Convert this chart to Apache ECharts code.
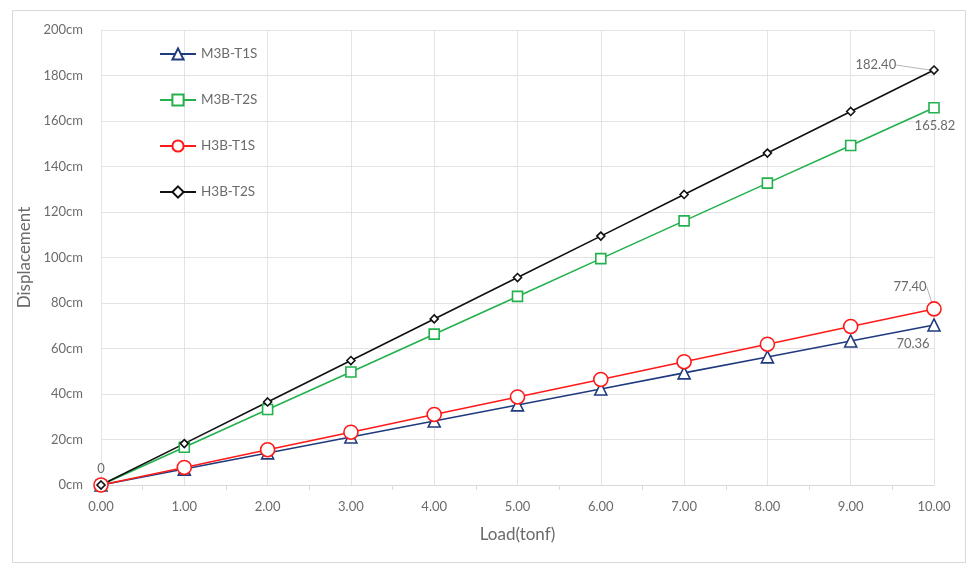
<!DOCTYPE html>
<html><head><meta charset="utf-8">
<script src="https://cdn.jsdelivr.net/npm/echarts@6/dist/echarts.min.js"></script>
<style>html,body{margin:0;padding:0;background:#fff}#c{width:974px;height:576px}</style>
</head><body><div id="c"></div>
<script>
const loads = [0, 1, 2, 3, 4, 5, 6, 7, 8, 9, 10];
const seriesNames = ['M3B-T1S', 'M3B-T2S', 'H3B-T1S', 'H3B-T2S'];
const m3bT1S = [0, 7.0, 14.1, 21.1, 28.1, 35.2, 42.2, 49.3, 56.3, 63.3, 70.36];
const m3bT2S = [0, 16.6, 33.2, 49.7, 66.3, 82.9, 99.5, 116.1, 132.7, 149.2, 165.82];
const h3bT1S = [0, 7.7, 15.5, 23.2, 31.0, 38.7, 46.4, 54.2, 61.9, 69.7, 77.40];
const h3bT2S = [0, 18.2, 36.5, 54.7, 73.0, 91.2, 109.4, 127.7, 145.9, 164.2, 182.40];

const FONT = 'Lato';
const GRAY = '#6b6b6b';
const chart = echarts.init(document.getElementById('c'));
const last = loads.length - 1;

function pts(vals, labelCfg) {
  return vals.map((v, i) => {
    const item = { value: [loads[i], v] };
    if (labelCfg[i]) {
      item.label = Object.assign({ show: true, color: GRAY, fontSize: 13, fontFamily: FONT,
        formatter: (p) => i === 0 ? '0' : p.value[1].toFixed(2) }, labelCfg[i].label);
      if (labelCfg[i].labelLine) item.labelLine = labelCfg[i].labelLine;
    }
    return item;
  });
}

const cfg = {
  m3bT1S: { [last]: { label: { position: 'bottom', offset: [-21, 1] } } },
  m3bT2S: { [last]: { label: { position: 'bottom', offset: [1, 1] } } },
  h3bT1S: { [last]: { label: { position: 'top' }, labelLine: { show: true } } },
  h3bT2S: { 0: { label: { position: 'top', offset: [0, -2] } },
            [last]: { label: { position: 'left' }, labelLine: { show: true } } }
};

function mk(name, vals, color, symbol, size, c, layout) {
  const s = {
    name, type: 'line', data: pts(vals, c || {}),
    symbol, symbolSize: size, showAllSymbol: true,
    lineStyle: { color, width: 1.6 },
    itemStyle: { color: '#fff', borderColor: color, borderWidth: 1.6 },
    emphasis: { disabled: true },
    labelLine: { show: false, lineStyle: { color: '#b5b5b5', width: 1 } },
    color
  };
  if (layout) s.labelLayout = layout;
  return s;
}

const option = {
  animation: false,
  graphic: [{ type: 'rect', shape: { x: 12.5, y: 10.5, width: 953, height: 552 },
    style: { fill: 'none', stroke: '#d9d9d9', lineWidth: 1 }, silent: true }],
  grid: { left: 101, right: 40, top: 30, bottom: 91 },
  legend: {
    orient: 'vertical', left: 154, top: 42, itemGap: 32, itemWidth: 36, itemHeight: 14,
    textStyle: { color: GRAY, fontSize: 13.5, fontFamily: FONT },
    data: seriesNames
  },
  xAxis: {
    type: 'value', min: 0, max: 10, interval: 1,
    name: 'Load(tonf)', nameLocation: 'middle', nameGap: 41,
    nameTextStyle: { color: GRAY, fontSize: 17, fontFamily: FONT },
    axisLine: { lineStyle: { color: '#d9d9d9' } },
    axisTick: { show: false },
    minorTick: { show: true, splitNumber: 2, length: 5, lineStyle: { color: '#d9d9d9' } },
    axisLabel: { color: GRAY, fontSize: 13, fontFamily: FONT, margin: 15,
      formatter: v => v.toFixed(2) },
    splitLine: { show: true, lineStyle: { color: '#e3e3e3' } }
  },
  yAxis: {
    type: 'value', min: 0, max: 200, interval: 20,
    name: 'Displacement', nameLocation: 'middle', nameGap: 61, nameRotate: 90,
    nameTextStyle: { color: GRAY, fontSize: 17, fontFamily: FONT },
    axisLine: { show: false }, axisTick: { show: false },
    axisLabel: { color: GRAY, fontSize: 13, fontFamily: FONT, margin: 18, formatter: '{value}cm' },
    splitLine: { lineStyle: { color: '#e3e3e3' } }
  },
  series: [
    mk('M3B-T1S', m3bT1S, '#1f3a7d', 'triangle', 12, cfg.m3bT1S),
    mk('M3B-T2S', m3bT2S, '#22b14c', 'rect', 10, cfg.m3bT2S),
    mk('H3B-T1S', h3bT1S, '#ff1a1a', 'circle', 14, cfg.h3bT1S,
       p => p.dataIndex === last ? { dx: -24, dy: -3 } : null),
    mk('H3B-T2S', h3bT2S, '#111111', 'diamond', 8, cfg.h3bT2S,
       p => p.dataIndex === last ? { dx: -28, dy: -5 } : null)
  ]
};
chart.setOption(option);
</script></body></html>
